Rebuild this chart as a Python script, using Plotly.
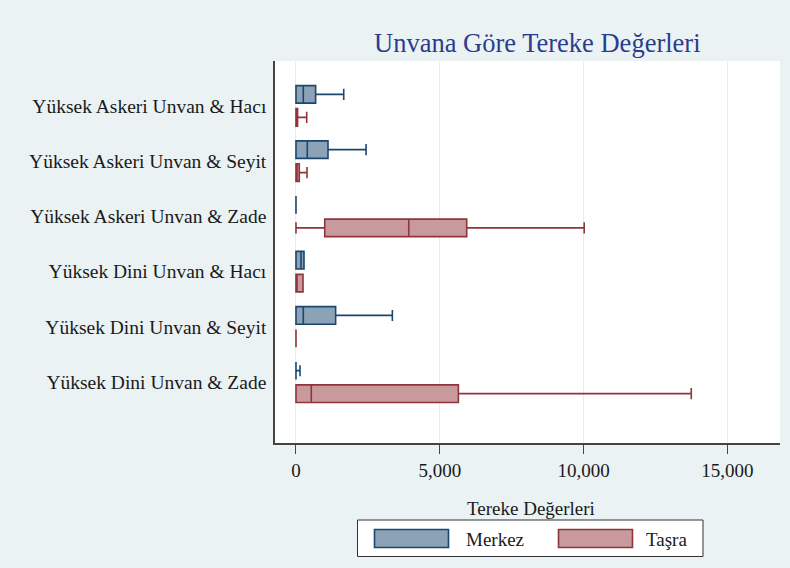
import plotly.graph_objects as go

# ---------------- data ----------------
categories = [
    "Yüksek Askeri Unvan & Hacı",
    "Yüksek Askeri Unvan & Seyit",
    "Yüksek Askeri Unvan & Zade",
    "Yüksek Dini Unvan & Hacı",
    "Yüksek Dini Unvan & Seyit",
    "Yüksek Dini Unvan & Zade",
]

merkez_min = [0, 0, 0, 0, 0, 0]
merkez_q1 = [0, 0, 0, 0, 0, 0]
merkez_median = [254, 393, 0, 174, 254, 0]
merkez_q3 = [682, 1113, 0, 278, 1378, 0]
merkez_max = [1660, 2436, 0, 278, 3351, 140]

tasra_min = [0, 0, 0, 0, 0, 0]
tasra_q1 = [0, 0, 999, 0, 0, 0]
tasra_median = [0, 0, 3921, 0, 0, 532]
tasra_q3 = [55, 115, 5936, 244, 0, 5647]
tasra_max = [372, 383, 10021, 244, 0, 13744]

x_ticks = [0, 5000, 10000, 15000]
x_tick_labels = ["0", "5,000", "10,000", "15,000"]

series_names = ["Merkez", "Taşra"]
title_text = "Unvana Göre Tereke Değerleri"
axis_title_text = "Tereke Değerleri"

# ---------------- style ----------------
FONT = "Liberation Serif"
NAVY = "#1A476F"
NAVY_FILL = "#8CA3B7"
MAROON = "#90353B"
MAROON_FILL = "#C89A9D"
BG = "#EAF2F3"
TXT = "#1a1a1a"
W, H = 790, 568
ML, MR, MT, MB = 275, 10, 61, 125
PW = W - ML - MR
PH = H - MT - MB


def px_x(p):
    return (p - ML) / PW


def px_y(p):
    return (H - MB - p) / PH


fig = go.Figure()
fig.add_trace(go.Box(
    name=series_names[0], y=categories, orientation="h",
    lowerfence=merkez_min, q1=merkez_q1, median=merkez_median,
    q3=merkez_q3, upperfence=merkez_max,
    fillcolor=NAVY_FILL, line=dict(color=NAVY, width=1.6),
    whiskerwidth=0.63, boxpoints=False, showlegend=False, hoverinfo="skip",
))
fig.add_trace(go.Box(
    name=series_names[1], y=categories, orientation="h",
    lowerfence=tasra_min, q1=tasra_q1, median=tasra_median,
    q3=tasra_q3, upperfence=tasra_max,
    fillcolor=MAROON_FILL, line=dict(color=MAROON, width=1.6),
    whiskerwidth=0.63, boxpoints=False, showlegend=False, hoverinfo="skip",
))

fig.update_layout(
    width=W, height=H,
    margin=dict(l=ML, r=MR, t=MT, b=MB, autoexpand=False),
    paper_bgcolor=BG, plot_bgcolor="white",
    boxmode="group", boxgap=0.168, boxgroupgap=0.236,
    font=dict(family=FONT, size=19, color=TXT),
    showlegend=False,
)
fig.update_xaxes(
    range=[-730, 16830], tickvals=x_ticks, ticktext=x_tick_labels,
    showgrid=True, gridcolor="#E4EDEF", gridwidth=1, zeroline=False,
    showline=True, linecolor="#444444", linewidth=1.6,
    ticks="outside", ticklen=9, tickcolor="#444444", tickwidth=1,
    ticklabelstandoff=0,
    tickfont=dict(family=FONT, size=19, color=TXT),
)
fig.update_yaxes(
    type="category", categoryorder="array", categoryarray=categories,
    range=[6.101, -0.812], showgrid=False, zeroline=False,
    showline=True, linecolor="#444444", linewidth=1.6,
    ticks="", ticklabelstandoff=3, automargin=False,
    tickfont=dict(family=FONT, size=19.5, color=TXT),
)

annotations = [
    dict(text=title_text, x=px_x(537.5), y=px_y(43), xref="paper", yref="paper",
         xanchor="center", yanchor="middle", showarrow=False,
         font=dict(family=FONT, size=26.5, color="#2A3D8F")),
    dict(text=axis_title_text, x=px_x(531), y=px_y(509), xref="paper", yref="paper",
         xanchor="center", yanchor="middle", showarrow=False,
         font=dict(family=FONT, size=19, color=TXT)),
    dict(text=series_names[0], x=px_x(464), y=px_y(539), xref="paper", yref="paper",
         xanchor="left", yanchor="middle", showarrow=False,
         font=dict(family=FONT, size=19, color=TXT)),
    dict(text=series_names[1], x=px_x(644), y=px_y(539), xref="paper", yref="paper",
         xanchor="left", yanchor="middle", showarrow=False,
         font=dict(family=FONT, size=19, color=TXT)),
]
shapes = [
    dict(type="rect", xref="paper", yref="paper",
         x0=px_x(357.5), x1=px_x(703), y0=px_y(520), y1=px_y(556.5),
         line=dict(color="#333333", width=1), fillcolor="white", layer="above"),
    dict(type="rect", xref="paper", yref="paper",
         x0=px_x(374.5), x1=px_x(448.5), y0=px_y(529.5), y1=px_y(547.5),
         line=dict(color=NAVY, width=1.6), fillcolor=NAVY_FILL, layer="above"),
    dict(type="rect", xref="paper", yref="paper",
         x0=px_x(558.5), x1=px_x(632.5), y0=px_y(529.5), y1=px_y(547.5),
         line=dict(color=MAROON, width=1.6), fillcolor=MAROON_FILL, layer="above"),
]
fig.update_layout(annotations=annotations, shapes=shapes)

fig.write_html(
    "out.html",
    config={"displayModeBar": False},
    post_script="document.body.style.margin='0';document.body.style.background='" + BG + "';",
)
